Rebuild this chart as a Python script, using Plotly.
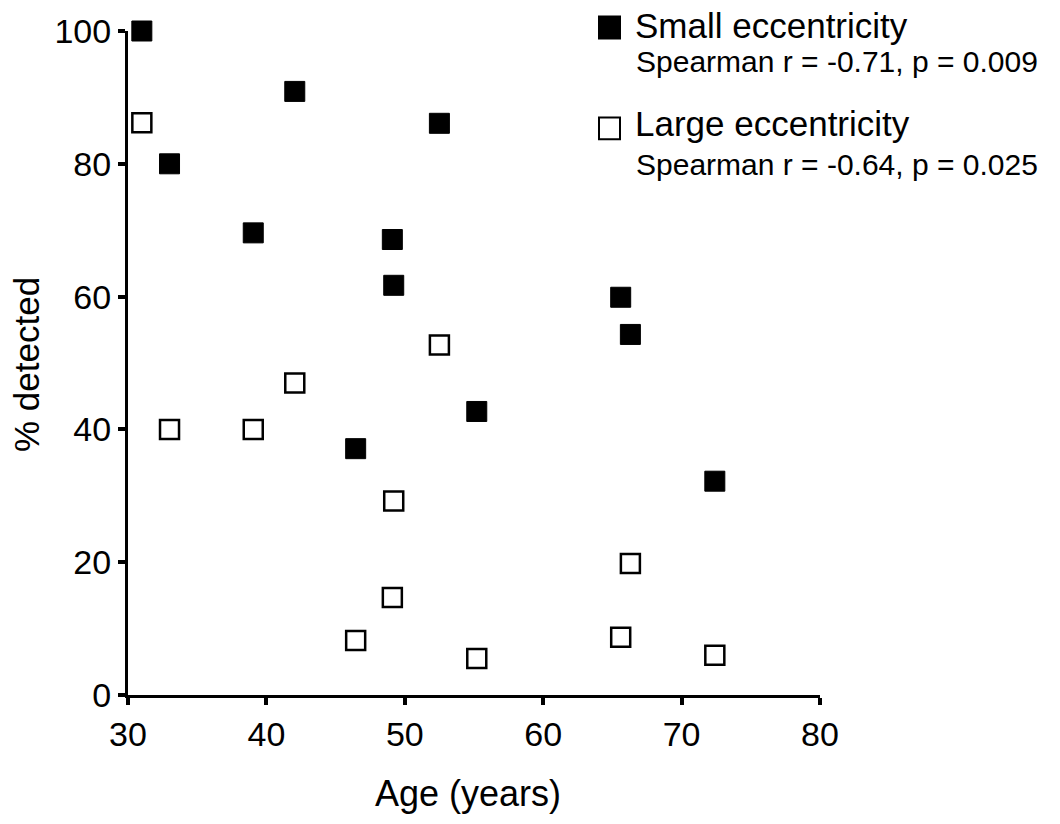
import plotly.graph_objects as go

age = [31.0, 33.0, 39.05, 42.05, 46.45, 49.1, 49.2, 52.5, 55.2, 65.6, 66.3, 72.4]
small_ecc = [100, 80, 69.6, 90.9, 37.1, 68.6, 61.7, 86.1, 42.7, 59.9, 54.3, 32.2]
large_ecc = [86.2, 40, 40, 47.0, 8.2, 14.7, 29.2, 52.7, 5.5, 8.7, 19.8, 6.0]

x_ticks = [30, 40, 50, 60, 70, 80]
y_ticks = [0, 20, 40, 60, 80, 100]

legend_names = ["Small eccentricity", "Large eccentricity"]
legend_stats = ["Spearman r = -0.71, p = 0.009", "Spearman r = -0.64, p = 0.025"]
x_title = "Age (years)"
y_title = "% detected"

FONT = "Liberation Sans, Arial, Helvetica, sans-serif"

fig = go.Figure()
fig.add_trace(go.Scatter(
    x=age, y=small_ecc, mode="markers", name=legend_names[0],
    marker=dict(symbol="square", size=20, color="black", line=dict(color="black", width=1)),
    cliponaxis=False, showlegend=False))
fig.add_trace(go.Scatter(
    x=age, y=large_ecc, mode="markers", name=legend_names[1],
    marker=dict(symbol="square-open", size=19, color="black", line=dict(color="black", width=2.5)),
    cliponaxis=False, showlegend=False))

L, R, T, B = 128, 240, 27, 129
W, H = 1060, 824
pw, ph = W - L - R, H - T - B

def px(xp):
    return (xp - L) / pw

def py(yp):
    return (H - B - yp) / ph

shapes = []
annotations = []
# legend entries: (square top, square bottom, name anchor y, stat anchor y, fill)
entries = [(12.5, 34.5, 21, 58, legend_names[0], legend_stats[0], "black"),
           (114, 136, 120, 161, legend_names[1], legend_stats[1], "white")]
for y0, y1, yn, ys, name, stat, fill in entries:
    shapes.append(dict(type="rect", xref="paper", yref="paper",
                       x0=px(599), x1=px(620), y0=py(y1), y1=py(y0),
                       fillcolor=fill, line=dict(color="black", width=2)))
    annotations.append(dict(xref="paper", yref="paper", x=px(633), y=py(yn),
                            xanchor="left", yanchor="middle", showarrow=False,
                            text=name, font=dict(family=FONT, size=35, color="black")))
    annotations.append(dict(xref="paper", yref="paper", x=px(634), y=py(ys),
                            xanchor="left", yanchor="middle", showarrow=False,
                            text=stat, font=dict(family=FONT, size=30, color="black")))

# axis titles
annotations.append(dict(xref="paper", yref="paper", x=px(468), y=py(794),
                        xanchor="center", yanchor="middle", showarrow=False,
                        text=x_title, font=dict(family=FONT, size=36, color="black")))
annotations.append(dict(xref="paper", yref="paper", x=px(27), y=py(363),
                        xanchor="center", yanchor="middle", showarrow=False, textangle=-90,
                        text=y_title, font=dict(family=FONT, size=35, color="black")))

fig.update_layout(
    width=W, height=H,
    margin=dict(l=L, r=R, t=T, b=B),
    paper_bgcolor="white", plot_bgcolor="white",
    font=dict(family=FONT, color="black"),
    shapes=shapes, annotations=annotations,
    xaxis=dict(range=[30, 80], tickvals=x_ticks, ticks="outside", ticklen=7, tickwidth=4,
               tickcolor="black", showline=True, linecolor="black", linewidth=3,
               showgrid=False, zeroline=False, tickfont=dict(size=34)),
    yaxis=dict(range=[0, 100], tickvals=y_ticks, ticks="outside", ticklen=7, tickwidth=4,
               tickcolor="black", showline=True, linecolor="black", linewidth=3,
               showgrid=False, zeroline=False, tickfont=dict(size=34)),
)

fig.write_html("out.html")
